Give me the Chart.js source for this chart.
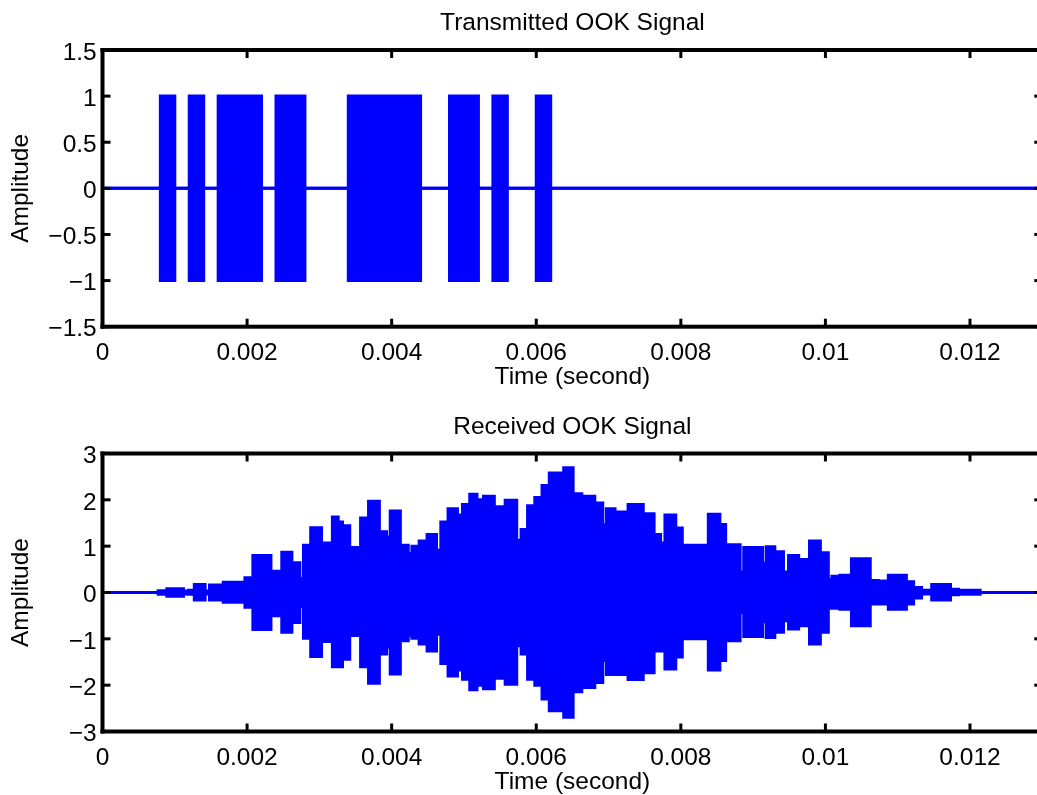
<!DOCTYPE html>
<html><head><meta charset="utf-8">
<script src="https://cdn.jsdelivr.net/npm/chart.js@4.4.0/dist/chart.umd.min.js"></script>
<style>
html,body{margin:0;padding:0;background:#fff;overflow:hidden;width:1037px;height:795px;}
#wrap{position:absolute;left:0;top:0;width:1050px;height:798px;}
#c1{position:absolute;left:0;top:0;}
#c2{position:absolute;left:0;top:400px;}
</style></head><body>
<div id="wrap"><canvas id="c1" width="1050" height="400"></canvas><canvas id="c2" width="1050" height="398"></canvas></div>
<script>
// ---------- data ----------
const X_MIN = 0, X_MAX = 0.013;
const xTicks = [0, 0.002, 0.004, 0.006, 0.008, 0.01, 0.012];
const xTickLabels = ['0', '0.002', '0.004', '0.006', '0.008', '0.01', '0.012'];
const txYTicks = [-1.5, -1, -0.5, 0, 0.5, 1, 1.5];
const txYTickLabels = ['\u22121.5', '\u22121', '\u22120.5', '0', '0.5', '1', '1.5'];
const rxYTicks = [-3, -2, -1, 0, 1, 2, 3];
const rxYTickLabels = ['\u22123', '\u22122', '\u22121', '0', '1', '2', '3'];

// Transmitted OOK bursts (ms)
const txBurstStartMs = [0.8, 1.2, 1.6, 2.4, 3.4, 4.8, 5.4, 6.0];
const txBurstEndMs   = [1.0, 1.4, 2.2, 2.8, 4.4, 5.2, 5.6, 6.2];
const txBurstAmp     = [1, 1, 1, 1, 1, 1, 1, 1];

// Received OOK signal envelope: segment edges (ms), upper and lower peaks
const rxEdgesMs = [0.77,0.89,1.12,1.19,1.27,1.42,1.48,1.63,1.67,1.97,
  2.08,2.33,2.48,2.62,2.73,2.78,2.88,3.03,3.18,3.26,
  3.32,3.42,3.57,3.68,3.83,3.93,3.98,4.12,4.23,4.28,
  4.38,4.49,4.62,4.68,4.78,4.91,4.98,5.08,5.18,5.27,
  5.42,5.57,5.73,5.79,5.88,5.98,6.08,6.18,6.38,6.51,
  6.63,6.67,6.81,6.92,6.97,7.09,7.23,7.27,7.48,7.63,
  7.72,7.78,7.93,8.02,8.38,8.54,8.62,8.82,8.87,9.13,
  9.18,9.30,9.42,9.49,9.63,9.78,9.93,10.04,10.09,10.20,
  10.36,10.62,10.73,10.87,11.12,11.22,11.33,11.47,11.73,11.84,
  12.14];
const rxUpper = [0.04,0.08,0.03,0.05,0.17,0.03,0.16,0.03,0.22,0.32,
  0.80,0.46,0.87,0.64,0.30,1.02,1.40,1.07,1.63,1.52,
  1.44,0.97,1.61,1.97,1.31,1.20,1.76,1.02,0.84,1.00,
  1.11,1.25,0.91,1.52,1.81,1.67,1.90,2.12,2.00,2.08,
  1.85,1.99,1.13,1.36,1.87,2.05,2.31,2.58,2.69,2.13,
  1.46,2.08,1.93,1.46,1.81,1.74,1.49,1.90,1.70,1.25,
  1.07,1.67,1.39,1.02,1.69,1.47,1.03,0.44,0.97,0.63,
  0.99,0.88,0.44,0.80,0.71,1.11,0.86,0.28,0.35,0.37,
  0.73,0.26,0.25,0.37,0.23,0.11,0.05,0.17,0.07,0.05];
const rxLower = [-0.04,-0.08,-0.03,-0.04,-0.16,-0.03,-0.16,-0.03,-0.21,-0.32,
  -0.80,-0.50,-0.86,-0.65,-0.30,-0.99,-1.38,-1.06,-1.60,-1.60,
  -1.44,-0.93,-1.60,-1.96,-1.33,-1.18,-1.76,-1.04,-0.93,-0.99,
  -1.11,-1.26,-0.90,-1.53,-1.80,-1.67,-1.87,-2.10,-2.00,-2.08,
  -1.85,-1.98,-1.15,-1.33,-1.87,-2.00,-2.30,-2.55,-2.69,-2.14,
  -1.47,-2.05,-1.94,-1.47,-1.77,-1.77,-1.50,-1.88,-1.73,-1.26,
  -1.26,-1.65,-1.39,-1.00,-1.67,-1.47,-1.04,-0.43,-0.95,-0.63,
  -0.97,-0.86,-0.61,-0.79,-0.72,-1.11,-0.86,-0.34,-0.34,-0.36,
  -0.72,-0.25,-0.25,-0.36,-0.25,-0.12,-0.03,-0.16,-0.05,-0.04];

// ---------- build datasets ----------
function burstPoints(sign) {
  const pts = [{x: X_MIN, y: 0}];
  for (let i = 0; i < txBurstStartMs.length; i++) {
    pts.push({x: txBurstStartMs[i] / 1000, y: sign * txBurstAmp[i]});
    pts.push({x: txBurstEndMs[i] / 1000, y: 0});
  }
  pts.push({x: X_MAX, y: 0});
  return pts;
}
function envPoints(vals) {
  const pts = [{x: X_MIN, y: 0}];
  for (let i = 0; i < vals.length; i++) pts.push({x: rxEdgesMs[i] / 1000, y: vals[i]});
  pts.push({x: rxEdgesMs[vals.length] / 1000, y: 0});
  pts.push({x: X_MAX, y: 0});
  return pts;
}
const BLUE = '#0000ff';
function ds(points, fill) {
  return {data: points, stepped: true, borderColor: BLUE, backgroundColor: BLUE,
    borderWidth: 3, pointRadius: 0, tension: 0, fill: fill};
}

// ---------- styling ----------
const FONT = "'Liberation Sans', Arial, Helvetica, sans-serif";
const FS = 24.5;
const fontObj = {family: FONT, size: FS, weight: 'normal', lineHeight: 1.2};
Chart.defaults.color = '#000';
Chart.defaults.font.family = FONT;

const boxPlugin = {
  id: 'matlabBox',
  afterDraw(chart) {
    const {ctx, chartArea: a} = chart;
    const yt = chart.options.plugins.matlabBox.yTicks;
    const xs = chart.scales.x, ys = chart.scales.y;
    ctx.save();
    ctx.fillStyle = '#000';
    const hw = 4, vw = 4;
    ctx.fillRect(a.left - vw / 2, a.top - hw / 2, a.right - a.left + vw, hw);
    ctx.fillRect(a.left - vw / 2, a.bottom - hw / 2, a.right - a.left + vw, hw);
    ctx.fillRect(a.left - vw / 2, a.top - hw / 2, vw, a.bottom - a.top + hw);
    ctx.fillRect(a.right - vw / 2, a.top - hw / 2, vw, a.bottom - a.top + hw);
    const tl = 8, tw = 3;
    for (const v of xTicks) {
      const px = xs.getPixelForValue(v);
      ctx.fillRect(px - tw / 2, a.bottom - tl, tw, tl);
      ctx.fillRect(px - tw / 2, a.top, tw, tl);
    }
    for (const v of yt) {
      const py = ys.getPixelForValue(v);
      ctx.fillRect(a.left, py - tw / 2, tl, tw);
      ctx.fillRect(a.right - tl, py - tw / 2, tl, tw);
    }
    ctx.restore();
  }
};

function makeChart(id, geo, yMin, yMax, yTicks, yLabels, title, datasets) {
  return new Chart(document.getElementById(id), {
    type: 'line',
    data: {datasets: datasets},
    options: {
      responsive: false, animation: false, devicePixelRatio: 1,
      layout: {padding: {left: 0, right: 1050 - 1042.3, top: 0, bottom: 0}},
      plugins: {
        legend: {display: false}, tooltip: {enabled: false},
        matlabBox: {yTicks: yTicks},
        title: {display: true, text: title, fullSize: false, color: '#000', font: fontObj,
          padding: {top: geo.titleTop, bottom: geo.titleBottom}}
      },
      scales: {
        x: {
          type: 'linear', min: X_MIN, max: X_MAX,
          grid: {display: false, drawTicks: false}, border: {display: false},
          afterBuildTicks: s => { s.ticks = xTicks.map(v => ({value: v})); },
          afterFit: s => { s.height = geo.xAxisH; },
          ticks: {autoSkip: false, maxRotation: 0, minRotation: 0, padding: 12.3, color: '#000', font: fontObj,
            callback: (v, i) => xTickLabels[i]},
          title: {display: true, text: 'Time (second)', color: '#000', font: fontObj,
            padding: {top: 0, bottom: geo.xTitleBottom}}
        },
        y: {
          type: 'linear', min: yMin, max: yMax,
          grid: {display: false, drawTicks: false}, border: {display: false},
          afterBuildTicks: s => { s.ticks = yTicks.map(v => ({value: v})); },
          afterFit: s => { s.width = 102.5; },
          ticks: {autoSkip: false, padding: 5.8, labelOffset: 3, color: '#000', font: fontObj,
            callback: (v, i) => yLabels[i]},
          title: {display: true, text: 'Amplitude', color: '#000', font: fontObj,
            padding: {top: 6.7, bottom: 0}}
        }
      }
    },
    plugins: [boxPlugin]
  });
}

makeChart('c1', {titleTop: 8.5, titleBottom: 12.1, xAxisH: 73.3, xTitleBottom: 8.3},
  -1.5, 1.5, txYTicks, txYTickLabels, 'Transmitted OOK Signal',
  [ds(burstPoints(1), '+1'), ds(burstPoints(-1), false)]);

makeChart('c2', {titleTop: 12.1, titleBottom: 12.0, xAxisH: 66.5, xTitleBottom: 1.3},
  -3, 3, rxYTicks, rxYTickLabels, 'Received OOK Signal',
  [ds(envPoints(rxUpper), '+1'), ds(envPoints(rxLower), false)]);
</script>
</body></html>
